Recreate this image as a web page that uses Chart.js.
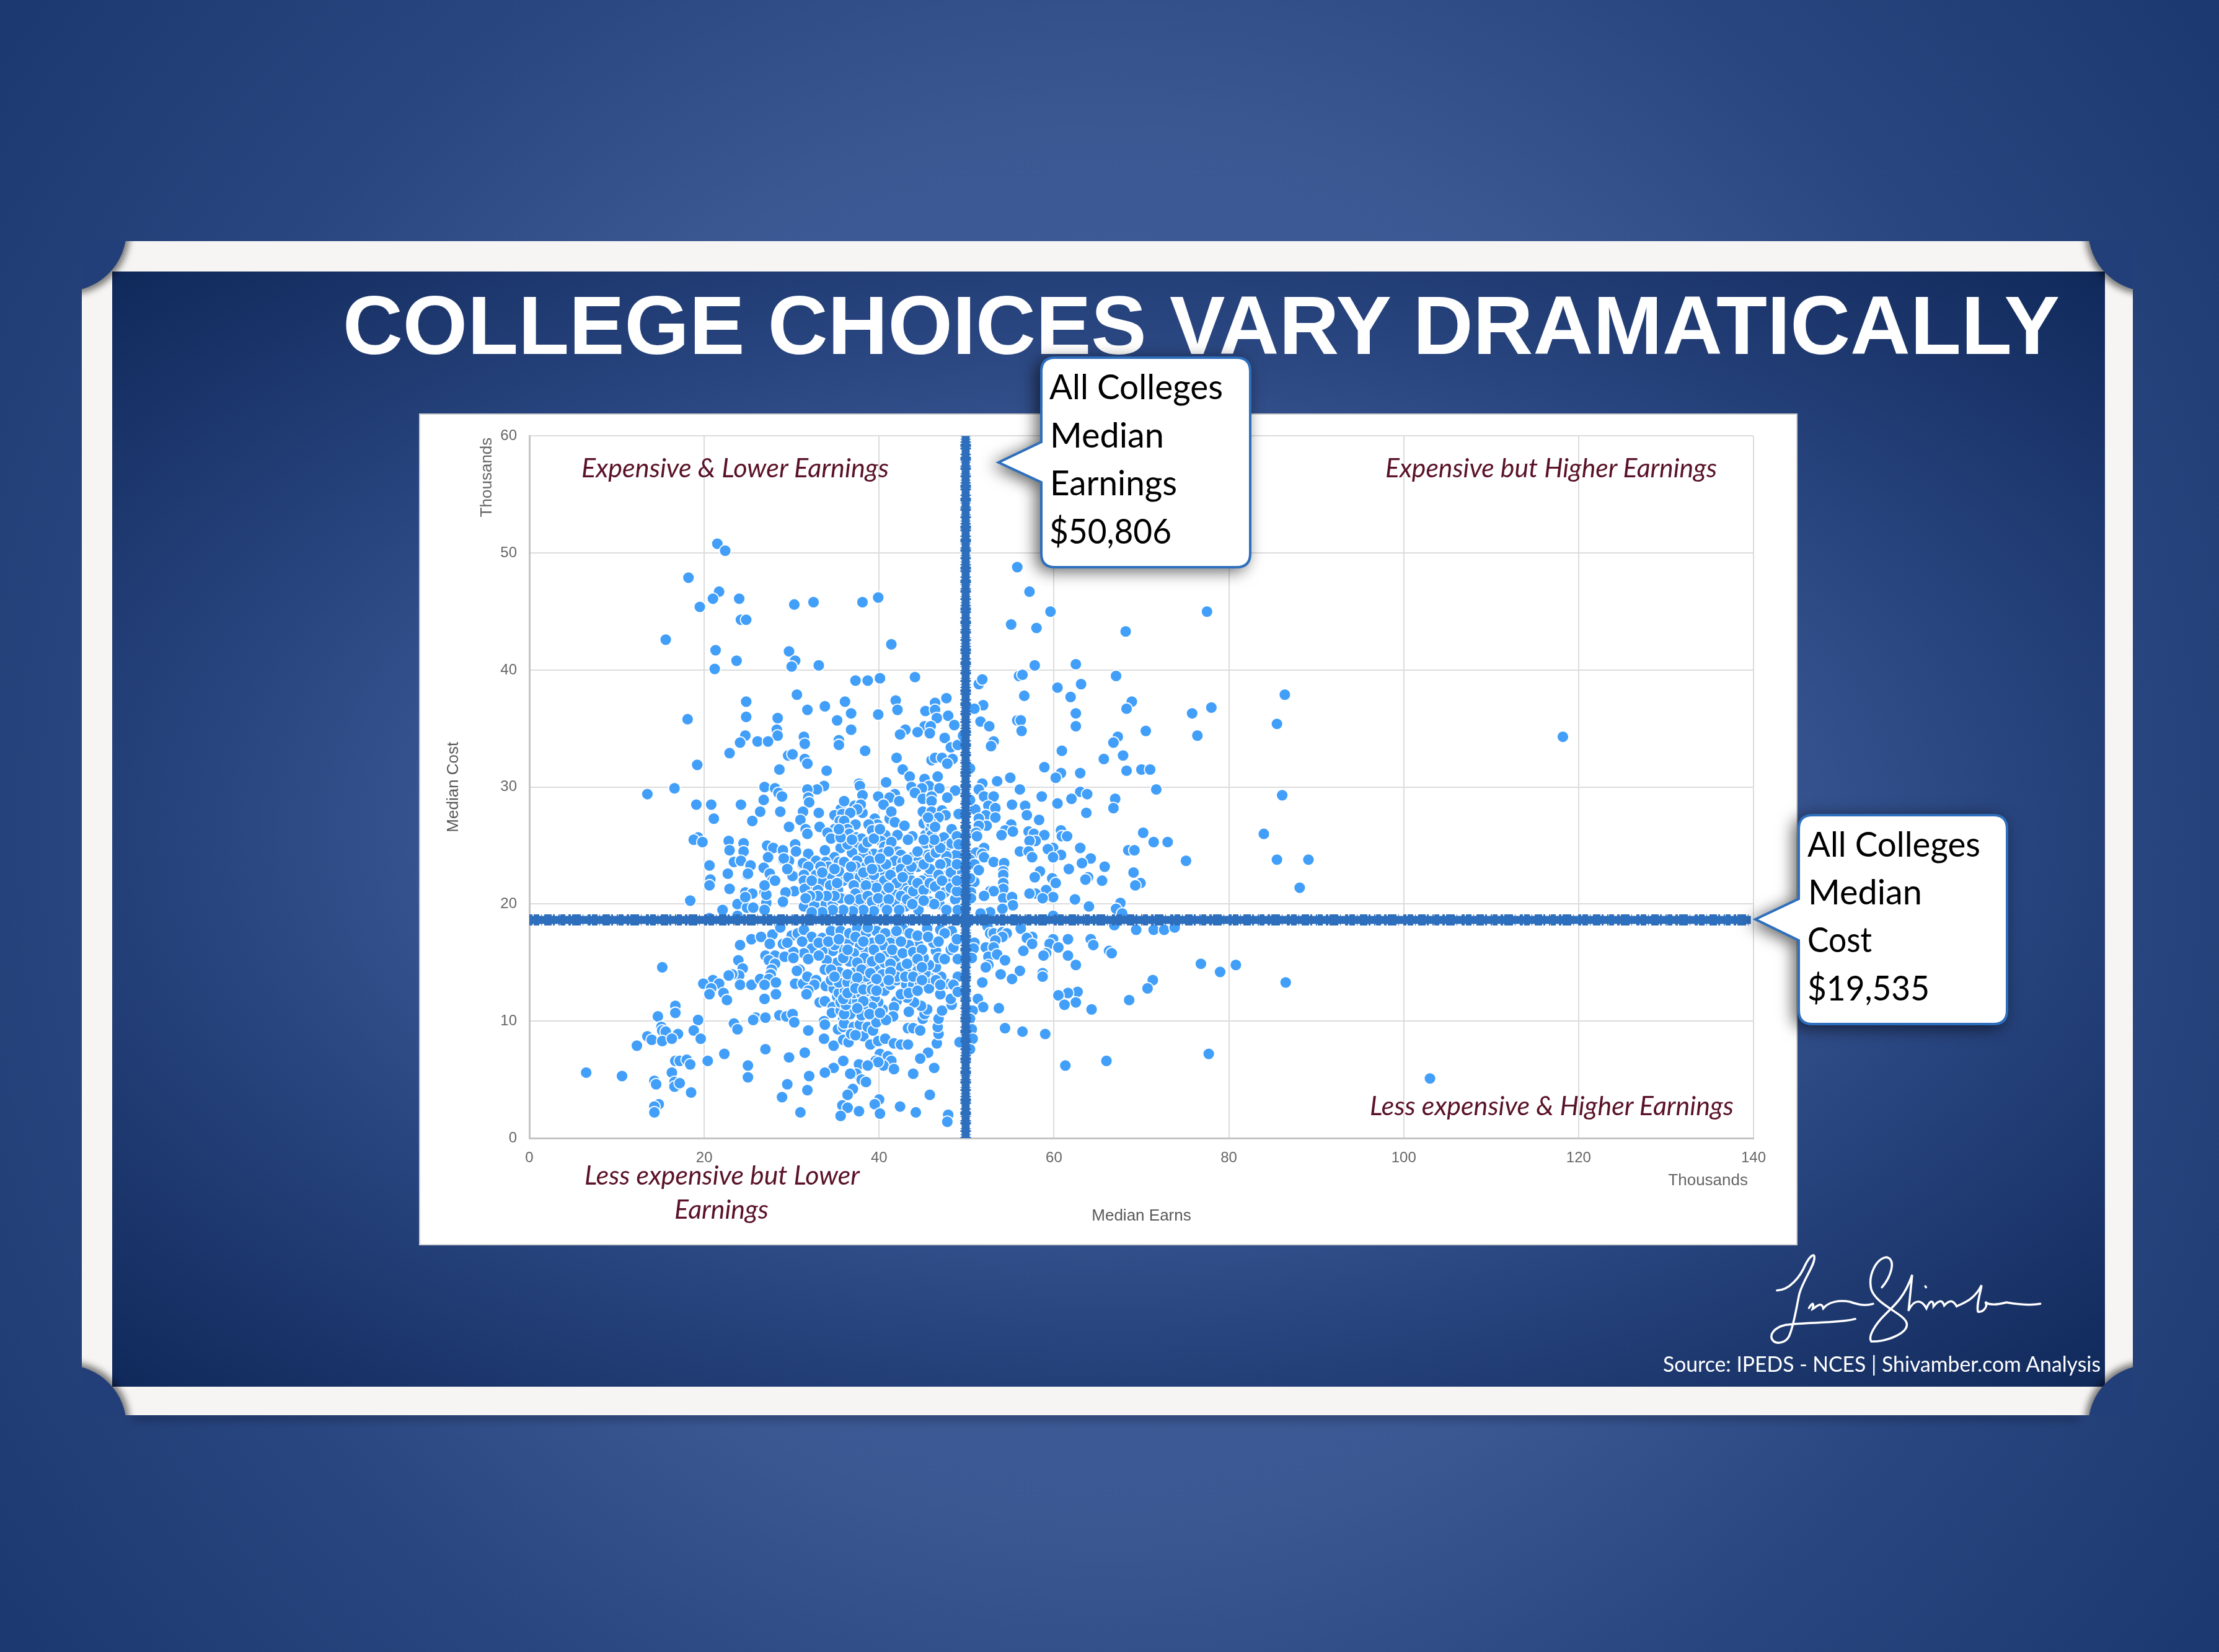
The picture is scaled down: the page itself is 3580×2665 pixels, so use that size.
<!DOCTYPE html>
<html>
<head>
<meta charset="utf-8">
<title>College choices vary dramatically</title>
<script src="https://cdn.jsdelivr.net/npm/chart.js@4"></script>
<style>
html, body { margin: 0; padding: 0; }
body {
    position: relative; width: 3580px; height: 2665px; overflow: hidden;
    background: radial-gradient(circle at 50% 50%, #42609e 0%, #3b5893 50%, #2a4680 72%, #1c3870 100%);
}
#frameshadow {
    position: absolute; left: 215px; top: 2276px; width: 3140px; height: 6px;
    box-shadow: 0 7px 14px rgba(0, 0, 0, .45);
}
#frame {
    position: absolute; left: 132px; top: 389px; width: 3309px; height: 1894px;
    background: #f6f5f3; overflow: hidden;
}
#inner {
    position: absolute; left: 49px; top: 49px; width: 3215px; height: 1799px;
    background: radial-gradient(farthest-corner at 50% 50%, #42609e 0%, #3d5a97 40%, #28447e 65%, #10295b 100%);
}
.corner {
    position: absolute; width: 196px; height: 196px; border-radius: 50%;
    background: #233f7a;
}
#panel {
    position: absolute; left: 678px; top: 669px; width: 2220px; height: 1338px;
    background: #fff; box-shadow: 0 0 0 2px #cfcfcf;
}
#chart { position: absolute; left: 0; top: 0; }
#overlay { position: absolute; left: 0; top: 0; }
#title { position: absolute; left: 0; top: 0; }
.call { font-family: Lato, sans-serif; font-size: 56px; fill: #000; }
.quad { font-family: Lato, sans-serif; font-style: italic; font-size: 42px; fill: #5a1228; }
.axisnote { font-family: "Liberation Sans", sans-serif; font-size: 26px; fill: #666; }
.shape { fill: #fff; stroke: #2e6fbd; stroke-width: 4; filter: drop-shadow(-7px 5px 13px rgba(0, 0, 0, .6)); }
</style>
</head>
<body>
<div id="frameshadow"></div>
<div id="frame">
    <div id="inner"></div>
    <div class="corner" style="left:-124px;top:-115px;box-shadow:5px 5px 11px rgba(0,0,0,.5)"></div>
    <div class="corner" style="left:3237px;top:-115px;box-shadow:-5px 5px 11px rgba(0,0,0,.5)"></div>
    <div class="corner" style="left:-124px;top:1813px;box-shadow:5px -5px 11px rgba(0,0,0,.5)"></div>
    <div class="corner" style="left:3237px;top:1813px;box-shadow:-5px -5px 11px rgba(0,0,0,.5)"></div>
</div>
<svg id="title" width="3580" height="2665">
    <text x="553" y="571" textLength="2770" lengthAdjust="spacingAndGlyphs" fill="#fff"
        font-family="Liberation Sans" font-weight="bold" font-size="134">COLLEGE CHOICES VARY DRAMATICALLY</text>
</svg>
<div id="panel"><canvas id="chart" width="2220" height="1338"></canvas></div>
<svg id="overlay" width="3580" height="2665">
    <text class="quad" x="938" y="770" textLength="496" lengthAdjust="spacingAndGlyphs">Expensive &amp; Lower Earnings</text>
    <text class="quad" x="2235" y="770" textLength="535" lengthAdjust="spacingAndGlyphs">Expensive but Higher Earnings</text>
    <text class="quad" x="2210" y="1799" textLength="587" lengthAdjust="spacingAndGlyphs">Less expensive &amp; Higher Earnings</text>
    <text class="quad" x="943" y="1911" textLength="444" lengthAdjust="spacingAndGlyphs">Less expensive but Lower</text>
    <text class="quad" x="1088" y="1966" textLength="152" lengthAdjust="spacingAndGlyphs">Earnings</text>
    <text class="axisnote" transform="translate(793 770) rotate(-90)" text-anchor="middle">Thousands</text>
    <text class="axisnote" x="2820" y="1912" text-anchor="end">Thousands</text>

    <path class="shape" d="M1702 577 H1995 Q2017 577 2017 599 V893 Q2017 915 1995 915 H1702 Q1680 915 1680 893 V778 L1611 746 L1680 713 V599 Q1680 577 1702 577 Z"/>
    <text class="call" x="1693" y="644" textLength="280" lengthAdjust="spacingAndGlyphs">All Colleges</text>
    <text class="call" x="1694" y="722" textLength="184" lengthAdjust="spacingAndGlyphs">Median</text>
    <text class="call" x="1694" y="799" textLength="205" lengthAdjust="spacingAndGlyphs">Earnings</text>
    <text class="call" x="1693" y="877" textLength="197" lengthAdjust="spacingAndGlyphs">$50,806</text>

    <path class="shape" d="M2924 1315 H3216 Q3238 1315 3238 1337 V1630 Q3238 1652 3216 1652 H2924 Q2902 1652 2902 1630 V1517 L2832 1483 L2902 1450 V1337 Q2902 1315 2924 1315 Z"/>
    <text class="call" x="2916" y="1382" textLength="279" lengthAdjust="spacingAndGlyphs">All Colleges</text>
    <text class="call" x="2917" y="1459" textLength="184" lengthAdjust="spacingAndGlyphs">Median</text>
    <text class="call" x="2916" y="1536" textLength="104" lengthAdjust="spacingAndGlyphs">Cost</text>
    <text class="call" x="2916" y="1614" textLength="197" lengthAdjust="spacingAndGlyphs">$19,535</text>

    <text x="2683" y="2213" textLength="706" lengthAdjust="spacingAndGlyphs" fill="#fff"
        font-family="Lato" font-size="35">Source: IPEDS - NCES | Shivamber.com Analysis</text>

    <!-- signature -->
    <svg x="2600" y="1900" width="900" height="420" viewBox="0 0 1568 1260" preserveAspectRatio="none">
        <g fill="none" stroke="#fff" stroke-width="3.5" stroke-linecap="round">
            <path vector-effect="non-scaling-stroke" d="M465 545 C500 545 530 480 545 420 C555 385 570 360 570 385 C572 420 540 490 528 560 C518 640 512 720 498 770 C488 800 465 805 455 790 C440 765 455 725 490 712 C540 698 640 705 685 683"/>
            <path vector-effect="non-scaling-stroke" d="M555 630 C565 600 570 605 565 635 C575 625 590 595 595 632 C610 600 640 590 670 600 C690 612 710 622 735 610"/>
            <path vector-effect="non-scaling-stroke" d="M760 530 C785 480 800 400 775 385 C745 385 720 470 730 540 C745 620 830 660 830 710 C830 755 770 795 730 792 C720 770 740 710 770 660 C800 610 825 570 845 470 L835 640"/>
            <path vector-effect="non-scaling-stroke" d="M835 640 C850 590 870 585 885 632 C895 590 905 590 905 622 C920 590 930 590 935 618 C950 590 960 590 970 622 C990 605 1020 590 1040 520 C1035 570 1025 620 1030 648 C1045 652 1060 620 1050 600 C1060 620 1090 612 1110 603 C1150 615 1180 618 1205 610"/>
            <path vector-effect="non-scaling-stroke" d="M882 525 L884 530"/>
        </g>
    </svg>
</svg>
<script>
// values: [median earnings, median cost], in thousands
const expensiveLower = [
[21.5,50.8],[22.4,50.2],[18.2,47.9],[21.7,46.7],[21,46.1],[19.5,45.4],[24,46.1],[30.3,45.6],[32.5,45.8],[38.1,45.8],[39.9,46.2],[24.2,44.3],[24.8,44.3],
[15.6,42.6],[21.3,41.7],[41.4,42.2],[29.7,41.6],[30.4,40.8],[23.7,40.8],[21.2,40.1],[30,40.3],[33.1,40.4],[37.3,39.1],[38.7,39.1],[40.1,39.3],[44.1,39.4],
[30.6,37.9],[24.8,37.3],[41.9,37.4],[36.1,37.3],[33.8,36.9],[46.4,37.2],[47.7,37.6],[31.8,36.6],[42.1,36.6],[36.8,36.3],[45.3,36.5],[46.4,36.6],[39.9,36.2],
[24.8,36],[18.1,35.8],[28.4,35.9],[47.9,36.1],[46.6,35.9],[35.2,35.7],[48.6,35.3],[45.2,35.2],[45.9,35.2],[36.8,34.9],[43,34.9],[44.4,34.7],[42.4,34.5],[45.8,34.6],
[28.3,34.9],[28.4,34.4],[24.7,34.4],[24.1,33.8],[26.1,33.9],[27.3,33.9],[31.4,34.3],[31.5,33.7],[47.5,34.2],[35.4,34],[35.4,33.6],[48.2,33.4],[49,33.6],[49.6,34.4],
[22.9,32.9],[38.4,33.1],[29.6,32.7],[30.1,32.8],[31.5,32.4],[31.8,32],[42,32.5],[46,32.3],[46.4,32.5],[47.2,32.5],[48.4,32.4],[47.8,32],[19.2,31.9],[28.6,31.5],
[34,31.4],[42.7,31.5],[43.5,30.9],[46.7,30.9],[45.2,30.7],[37.7,30.3],[37.8,30.1],[40.8,30.4],[26.9,30],[43.7,30],[45.7,30.1],[33.7,30.1],[32.9,29.8],[28.1,29.9],
[16.6,29.9],[13.5,29.4],[46.9,29.9],[44.9,29.9],[31.8,29.8],[28.5,29.5],[28.9,29.2],[48.7,29.7],[44.1,29.5],[45,29],[38.1,29.3],[39.9,29.2],[41.8,29.4],[41.2,29.1],
[40.5,28.5],[31.9,29.1],[32,28.7],[47.8,29.1],[46,29.2],[46,28.8],[42.3,28.8],[26.8,28.9],[24.2,28.5],[19.1,28.5],[20.8,28.5],[36,28.7],[35.6,28.1],[37.2,28.4],[37.4,28],
[21.1,27.3],[28.7,27.9],[26.4,27.9],[25.5,27.1],[29.7,26.6],[31.3,27.9],[31,27.2],[31.6,26.4],[31.8,26],[33.1,27.8],[33.2,26.6],
[19.3,25.7],[18.8,25.5],[19.8,25.3],[22.8,25.4],[22.9,24.6],[24.5,25.2],[24.5,24.5],[20.6,23.3],[20.7,22.1],[20.6,21.6],[22.7,22.6],[22.9,21.3],[23.4,23.6],[24.2,23.7],
[25.2,23.2],[24.9,22.5],[27.2,25],[27.9,24.8],[29,24.6],[29,23.8],[29.7,23.7],[27.3,24],[26.8,23.1],[27.5,22.6],[27.8,22],[30.4,25.1],[33.7,24.6],[31.2,23.4],[31.9,24.2],
[29.6,22.9],[30.1,22.4],[24.7,21],[25.5,20.9],[26.9,21],[18.4,20.3],[30.3,21.1],[29.3,21],[23.8,20],[29,20.1],[22.1,19.5],[27.1,20.1],[26.9,19.5],[24.9,19.7],[25.6,19.7],[20.6,18.8],
[34.9,27.6],[36,28.8],[38.1,27.8],[35.8,27.7],[37.9,28.5],[37.5,28.1],[36.7,27.8],[35.5,27.1],[36,27.1],[37.3,26.8],[36.4,26.4],[34.9,26.4],[34.1,26.1],[34.5,25.6],[36.6,26],
[37.4,25.7],[38,25.6],[36,25.4],[35.6,24.8],[37.2,25],[38.4,25],[34.9,24],[36.9,24.4],[35.4,23.6],[36,23.6],[33.8,24.6],[31.9,24.3],[39.5,27.3],[39.8,26.8],[39.9,26.4],[38.8,26.8],
[39.2,26.3],[40.7,25.9],[40.2,25.4],[40.6,24.9],[39.4,24.3],[38.5,24.2],[40.4,24.3],[41.2,27.3],[41.4,27.9],[41.8,27],[42.9,26.7],[42.1,25.9],[43.8,25.8],[43.3,25.5],[41.3,24.9],
[42.1,24.5],[42.5,24.2],[41.8,23.7],[42.7,23.6],[43.8,24],[44.5,23.7],[45,24.5],[45.3,25.2],[45.3,25.9],[45.1,26.9],[45.8,27],[45,27.9],[46,27.9],[47.2,28],[47.6,27.6],[46.8,27.4],
[45.9,26.4],[46,25.9],[48.3,26.4],[47.4,25.7],[47.7,24.9],[48.3,25.2],[46.3,25.1],[48.8,24.2],[47.7,24.1],[45.6,24.2],[49.1,27.7],
[31.3,23.5],[32.8,23.7],[33.9,23.6],[31.9,23.2],[31.4,22.5],[31.4,22],[32.8,22.5],[33.9,22.8],[34.5,22.3],[33.5,21.9],[34.4,21.6],[32.3,21.5],[31.5,21.3],[33,21.2],[35.3,21.2],[35.9,22],
[35.4,22.8],[37.4,22.5],[37.1,23],[36.5,22.3],[38.2,24.1],[37.5,23.7],[38.5,23.2],[39.7,23.4],[40.3,22.7],[39.3,22],[38.2,22],[40.6,22],[37.5,21.1],[40.6,21],[38.9,21.2],[41.8,22.7],
[42.5,23],[43.4,22.8],[44.4,23.2],[45.6,23.2],[46.8,23.2],[43.7,22],[42.7,21.5],[41.8,20.8],[43.3,21.1],[44.4,20.7],[45.6,22.3],[44.9,22],[46.2,21.5],[47.8,22.5],[48.5,22],[47.5,21],
[48.7,20.4],[47.7,23.5],[49.1,23],[47,23.4],[45.5,21.3],[31.4,19.8],[32.6,19.9],[33.9,20],[34.7,20],[35.9,20.5],[37.3,19.8],[38.2,20.2],[39.7,19.8],[40.7,19.9],[41.8,20],[43,19.8],
[44.5,19.5],[45.8,20.2],[46.9,20],[47.7,19.5],[49,19.5],[29,20.2],[27.1,20.8],[23.8,19],[26.9,21.6],[24.7,20.6],[30.5,24.5],[29.1,23.9],[29.5,23],[28.1,22],[25.3,23.3],[25,22.6],
[37.3,23.2],[37.8,22.3],[38.5,22.3],[39.4,22.5],[36.8,23.2],[38.2,22.7],[38.9,23.7],[40.1,23.2],[40.8,23.4],[41.3,22.5],[42,21.8],[42.7,22.3],[41.1,21.4],[39.7,21.4],[38.5,21.6],
[37.1,21.6],[37.3,20.9],[37.8,20.4],[38.7,20.7],[39.2,20.2],[39.9,20.5],[41.1,20.4],[42.5,20.7],[43.2,20.4],[43.9,21.1],[44.4,21.8],[45.1,21.2],[45.8,21.8],[46.4,21.5],[47,20.7],
[46.3,20],[45.1,20.3],[43.8,20],[42.3,19.5],[40.9,19.5],[39.4,19.4],[38.2,19.5],[37,19.4],[35.9,19.5],[34.7,19.5],[33.5,19.3],[32.3,19.3],[35.6,20.5],[34.9,20.7],[36.6,20.4],[34,20.7],
[33,20.7],[32.1,20.7],[31.6,20.5],[35.2,21.8],[34.2,23.2],[34.9,23],[33.3,23.2],[33.5,22.7],[32.3,22],[45.8,23],[45.1,23.4],[46.8,22.5],[47.2,22],[48.2,21.4],[48.9,21.1],[48.2,22.7],
[48.9,22],[45.8,24],[46.5,24.4],[47,24.8],[44.4,24.5],[43.7,23.2],[43.2,23.8],[41.4,25.3],[41.1,24.5],[40.1,23.9],[39.2,23],[36.4,25.1],[35.6,25.7],[35.4,26.4],[36.9,25.5],[38.2,24.8],
[38.7,25.3],[39.4,25.6],[40.1,26.4],[46,26.9],[46.4,26.6],[45.6,27.4],[46.3,25.5],[45.1,25.5],[48.9,25.8],[49.1,25.1],[48.9,23.4]
];
const expensiveHigher = [
[55.8,48.8],[57.2,46.7],[59.6,45],[55.1,43.9],[58,43.6],[77.5,45],[68.2,43.3],[57.8,40.4],[62.5,40.5],[56,39.5],[56.4,39.6],[67.1,39.5],[63.1,38.8],[60.4,38.5],[61.9,37.7],[56.6,37.8],
[51.4,38.8],[51.8,39.2],[86.4,37.9],[68.9,37.3],[68.3,36.7],[78,36.8],[75.8,36.3],[51.9,37],[50.9,36.7],[62.5,36.3],[62.5,35.2],[55.8,35.7],[56.2,35.7],[51.6,35.6],[52.6,35.2],[56.3,34.8],
[70.5,34.8],[85.5,35.4],[76.4,34.4],[67.3,34.3],[66.8,33.8],[53.1,33.9],[52.8,33.5],[60.9,33.1],[67.9,32.7],[65.7,32.4],[58.9,31.7],[68.3,31.4],[70,31.5],[71,31.5],[63,31.2],[60.8,31.2],
[60.2,30.8],[55,30.8],[53.5,30.5],[51.8,30.3],[51.4,29.8],[50.4,31.6],[56.1,29.8],[71.7,29.8],[52,29.2],[53.1,29.2],[58.6,29.2],[63,29.6],[63.8,29.4],[62,29],[86.1,29.3],[67,29],[66.8,28.2],
[60.4,28.6],[55.2,28.5],[56.7,28.4],[52.5,28.4],[53.3,28.2],[51,28.1],[63.7,27.8],[56.9,27.6],[52.2,27.6],[51.4,27.3],[53.3,27.4],[58.3,27.2],[55.1,26.8],[52.3,26.7],[51.4,26.7],[54.4,26.3],
[55.3,26.2],[54,25.9],[57.1,26.2],[57.7,26],[58.9,25.9],[57.9,25.4],[57.2,25.4],[60.8,26.3],[60.9,25.8],[61.5,25.8],[51.1,26.1],[51.2,25.8],[70.2,26.1],[71.4,25.3],[73,25.3],[84,26],[63,24.8],
[59.9,24.8],[59.3,24.7],[52,24.8],[51.1,24.4],[51.8,24.3],[52,24],[56.1,24.5],[57.1,24.5],[57.5,24],[68.5,24.6],[69.2,24.6],[60.8,24.2],[59.9,24],[75.1,23.7],[85.5,23.8],[89.1,23.8],[64.2,23.9],
[63.2,23.5],[53.1,23.6],[54.3,23.5],[50.4,23.8],[50.9,23.4],[51.4,22.9],[65.8,23.2],[61.7,23],[54.2,22.8],[54.2,22.5],[58.4,22.8],[57.8,22.3],[59.8,22.2],[60.2,21.8],[63.9,22.3],[63.6,22.1],
[69.1,22.7],[65.5,22],[69.9,21.8],[69.3,21.6],[88.1,21.4],[54.2,21.8],[54.2,21.3],[50.9,21.9],[59.1,21.2],[57.9,20.9],[57.2,20.9],[59.9,20.6],[58.7,20.5],[52.7,21.1],[53.1,21.1],[52,20.7],
[54.2,20.5],[55.2,20.6],[55.3,19.9],[62.4,20.4],[67.6,20.1],[67.1,19.6],[64,19.8],[54.1,19.6],[52.7,19.3],[51.6,19.2],[59.9,19],[67.8,19.2],[50.4,22.2],[50.5,21],[50.5,20.5],[50.4,28.9],[118.2,34.3]
];
const cheaperLower = [
[24.1,16.5],[25.4,17],[26.5,17.2],[27.8,17.4],[27.5,16.6],[28.7,18],[27,15.6],[28.1,15.6],[27.4,15.2],[23.9,15.2],[24.4,14.5],[28.1,14.9],[27.7,14.4],[27.6,14],[24,13.9],[23.2,14],[24.1,13.1],
[25.4,13.1],[26.4,13.6],[27.4,13.6],[28.2,13.3],[26.9,13.1],[28.2,12.3],[26.9,11.9],[30.9,14.4],[30.6,14.3],[30.4,13.2],[31.3,13.2],[31.8,13.8],[32.8,13.5],[32.6,13.1],[31.9,12.6],[31.7,12.3],
[33.9,13],[33.2,11.6],[33.8,11.7],[34.7,11.2],[34.6,10.7],[23.5,9.8],[23.9,9.3],[25.9,10.3],[25.6,10.1],[27,10.3],[28.6,10.5],[29.4,10.4],[30.1,10.6],[30.3,9.9],[31.9,9.2],[33.7,10],[33.8,9.7],
[33.7,8.5],[34.8,7.9],[35.9,8.4],[36.5,8.2],[35.3,9.3],[35.9,9.5],[35.9,10.2],[36,9.8],[37.1,9.5],[37.8,9.7],[36.8,8.9],[38.2,8.7],[37.3,8.8],[38.7,9.5],[39.3,9.2],[39.7,9.9],[39,8],[39.9,8.3],
[40.7,8.5],[41.7,8.1],[42.5,8],[43.3,8],[43.3,9.4],[43.9,9.4],[44.7,9.2],[40.1,7.2],[39.6,6.6],[41,7],[41.4,6.6],[40.5,6.2],[39.9,6.5],[41.7,5.9],[37.7,6.3],[38.7,6.2],[37.4,5.5],[36.7,5.5],
[38,5],[38.5,4.8],[35.9,6.6],[34.8,6],[33.8,5.6],[31.5,7.3],[29.7,6.9],[27,7.6],[25,6.2],[25,5.2],[32,5.3],[29.5,4.6],[31.8,4.1],[28.9,3.5],[37,4.2],[36.4,3.7],[40,3.3],[45.6,7.3],[44.7,6.8],
[46.3,6],[43.9,5.5],[45.8,3.7],[46.6,8.1],[46.8,8.9],[46.7,9.5],[46.8,10.2],[47.2,10.9],[48.3,11.4],[48.2,11.9],[45,10.2],[45.2,10.6],[45.5,11],[44.8,11.3],[44,11.6],[43.4,10.8],[43.2,12],
[42,11.7],[41.7,11.2],[41.6,10.4],[40.8,10.1],[40.4,11],[39.9,11.6],[39.5,12],[38.5,11.6],[39.2,11.2],[38.2,11],[37.3,10.9],[38,10.5],[36.7,10.6],[35.6,10.9],[36,10.6],[35.2,12.1],[35.6,11.6],
[36.2,11.4],[36.7,11.9],[37.5,11.7],[34.8,12.8],[35.4,12.4],[36.1,12.6],[37.1,12.4],[38,12.3],[38.7,12.6],[34.5,13.5],[35.4,13.3],[36.4,13.3],[37.3,13.1],[38.2,13.3],[39.2,13.1],[40.6,12.6],
[40.1,13.3],[41.3,13.1],[42,13.5],[43.1,13.1],[43.9,13.1],[44.7,13.2],[45.7,12.8],[47,12.3],[47.7,13.2],[47.1,13.8],[49,13.8],[48.5,13.1],[49,12.5],[45.8,13.7],[45.3,14.1],[46.5,14.6],[45.7,14.8],
[45.1,15.4],[43.8,15],[46.5,16],[46.8,15.4],[46.2,16.7],[47.5,15.3],[48.2,16.1],[48.5,16.3],[49,15.3],[47,17.8],[48.3,17.7],[48.9,17],[47.5,17.5],[45.5,17.9],[44.5,16.5],[43.4,16.5],[42.7,17.9],
[41.7,17.2],[40.9,15.8],[39.7,15.6],[38.5,16],[37.8,16.5],[36.6,16.8],[35.6,16.1],[34.7,16],[33.5,16],[32.3,16.2],[31.4,15.8],[30.2,15.9],[30,17.3],[30.7,17.5],[31.4,17.8],[32.3,17.2],[33.5,17.1],
[34.5,17.7],[35.6,17.7],[36.6,17.5],[37.5,17.9],[38.5,17.5],[39.7,17.7],[40.7,17.5],[41.3,16.7],[40.4,16.5],[39.2,16.7],[37.1,15.8],[36.6,15.1],[35.2,15],[34,15.2],[33.8,14.4],[37.3,14.2],[38.5,14.9],
[39.7,14.4],[40.6,15],[41.8,15.4],[42.5,14.6],[43.5,14],[44.4,14.3],[42,13.8],[38.5,13.8],[35.4,14.2],[34.5,14.4],[29,16.6],[29.5,16.7],[29.2,15.5],[30.2,15.4],[31.9,15.3],[31.2,16.8],
[15.2,14.6],[16.7,11.3],[16.7,10.7],[14.7,10.4],[19.3,10.1],[15.1,9.5],[15.2,9.2],[15.6,9.1],[18.8,9.2],[17,8.9],[13.5,8.7],[19.6,8.5],[14,8.4],[15.2,8.3],[16.3,8.5],[12.3,7.9],[23.4,9.8],[23.8,9.3],
[21,13.5],[19.9,13.2],[21.7,13.2],[22.8,13.9],[20.8,12.8],[20.6,12.3],[22.2,12.4],[22.6,11.8],[24.1,16.5],[20.4,6.6],[22.3,7.2],[16.7,6.6],[17.2,6.6],[18,6.7],[18.4,6.3],[16.3,5.6],[6.5,5.6],[10.6,5.3],
[14.3,4.9],[14.5,4.6],[16.6,4.8],[16.6,4.4],[17.2,4.7],[18.5,3.9],[14.8,2.9],[14.3,2.7],[14.3,2.2],[31,2.2],[35.8,2.8],[36.4,2.6],[35.6,1.9],[37.7,2.3],[39.5,2.9],[40.1,2.1],[42.4,2.7],[44.2,2.2],[47.9,2],[47.8,1.4],
[37.3,17.2],[38.2,16.8],[38.7,18],[40.1,17],[42,17.7],[43.5,17.5],[44.4,17.3],[45.6,17.2],[46.8,16.8],[42.5,16.8],[41.5,16.1],[42.7,15.8],[43.9,15.9],[44.9,16.1],[39.4,16.1],[38.3,15.4],[35.9,15.4],
[34.9,16.5],[33.1,16.7],[34.2,16.8],[35.4,17],[36.4,16.1],[33.1,15.6],[37.5,15],[39.2,15.1],[40.1,15.4],[41.3,14.9],[43.2,14.9],[44.4,15.3],[44.9,14.6],[38,14.4],[39,14.1],[40.4,14],[41.3,14.2],[36.4,14],
[34.9,13.8],[37.5,13.7],[39.7,13.6],[41.1,13.5],[43,13.8],[43.9,13.8],[44.9,13.5],[46.5,13.5],[47,13.1],[35.9,11.9],[36.4,12.4],[37.3,12.8],[38.2,12.7],[39.2,12.7],[39.7,12.6],[42.5,12.3],[43.4,12.4],
[44.4,12.6],[38.2,11.7],[37.5,11.1],[38.9,10.6],[40.1,10.7],[49.2,8.2]
];
const cheaperHigher = [
[69.4,17.8],[71.4,17.8],[72.6,17.8],[73.8,18],[66.9,18.2],[56.2,17.9],[52.4,18.1],[52.7,17.5],[53.1,17.5],[54.1,17.6],[54.6,17.5],[54.1,17.2],[53.3,16.9],[57.5,17.2],[56.9,17.1],[57.5,16.6],[59.9,17],
[59.5,16.6],[60.5,16.3],[61.6,17],[64.2,17],[64.5,16.5],[66.3,16],[66.6,15.8],[50.9,16.7],[50.8,16.2],[52.2,16.3],[53.1,16.3],[56.5,16],[50.6,15.4],[52.5,15.5],[53.5,15.7],[54.4,15.2],[59.1,15.8],[58.8,15.6],
[61.6,15.6],[62.5,14.8],[52.5,14.8],[52.2,14.6],[76.8,14.9],[79,14.2],[80.8,14.8],[56.1,14.3],[53.9,14],[55.2,13.6],[58.7,14.1],[58.7,13.8],[86.5,13.3],[71.3,13.5],[70.7,12.8],[51.8,13.3],[62.7,12.5],[61.6,12.4],
[60.5,12.2],[62.5,11.6],[61.2,11.4],[68.6,11.8],[64.3,11],[51.3,11.9],[51.9,11.2],[53.7,11.1],[50.7,10.9],[50.4,10.2],[54.4,9.4],[56.4,9.1],[59,8.9],[50.6,9.3],[50.7,8.5],[50.4,7.6],[61.3,6.2],[66,6.6],[77.7,7.2],[103,5.1]
];
const medianEarnings = 49.9;
const medianCost = 18.65;
const xTicks = [0, 20, 40, 60, 80, 100, 120, 140];
const yTicks = [0, 10, 20, 30, 40, 50, 60];

const colleges = [...expensiveLower, ...expensiveHigher, ...cheaperLower, ...cheaperHigher];
const roughV = [2, 3, 1, 4, 3, 2, 1, 6, 4, 1, 2, 5, 1, 2, 6, 3, 2, 7, 3, 1, 5, 2];
const roughH = [5, 2, 9, 3, 1, 4, 12, 2, 3, 6, 2, 1, 8, 5, 4, 2, 14, 3, 1, 7];

function medianLine(points, width, dash) {
    return {
        data: points,
        showLine: true,
        pointRadius: 0,
        borderColor: '#2e6fbd',
        borderWidth: width,
        borderDash: dash,
        clip: false
    };
}
const vLine = [{ x: medianEarnings, y: 0 }, { x: medianEarnings, y: 60 }];
const hLine = [{ x: 0, y: medianCost }, { x: 139.7, y: medianCost }];

new Chart(document.getElementById('chart'), {
    type: 'scatter',
    data: {
        datasets: [
            medianLine(vLine, 13, []),
            medianLine(vLine, 17, roughV),
            medianLine(hLine, 13, []),
            medianLine(hLine, 18, roughH),
            {
                data: colleges.map(p => ({ x: p[0], y: p[1] })),
                pointRadius: 9.5,
                pointBackgroundColor: '#429ff9',
                pointBorderColor: '#fff',
                pointBorderWidth: 1.8
            }
        ]
    },
    options: {
        responsive: false,
        animation: false,
        devicePixelRatio: 1,
        layout: { padding: { left: 0, top: 31, right: 69, bottom: 0 } },
        plugins: { legend: { display: false }, tooltip: { enabled: false } },
        scales: {
            x: {
                type: 'linear',
                min: 0,
                max: 140,
                afterBuildTicks: s => { s.ticks = xTicks.map(v => ({ value: v })); },
                afterFit: s => { s.height = 171; },
                grid: { color: '#dcdcdc', lineWidth: 2, drawTicks: false },
                border: { color: '#c4c4c4', width: 3 },
                ticks: { padding: 18, maxRotation: 0, color: '#666', font: { family: 'Liberation Sans', size: 24 } },
                title: { display: true, text: 'Median Earns', color: '#595959', padding: { top: 0, bottom: 30 }, font: { family: 'Liberation Sans', size: 26 } }
            },
            y: {
                min: 0,
                max: 60,
                afterBuildTicks: s => { s.ticks = yTicks.map(v => ({ value: v })); },
                afterFit: s => { s.width = 176; },
                grid: { color: '#dcdcdc', lineWidth: 2, drawTicks: false },
                border: { color: '#c4c4c4', width: 3 },
                ticks: { padding: 20, color: '#666', font: { family: 'Liberation Sans', size: 24 } },
                title: { display: true, text: 'Median Cost', color: '#595959', padding: { top: 38, bottom: 0 }, font: { family: 'Liberation Sans', size: 26 } }
            }
        }
    }
});
</script>
</body>
</html>
